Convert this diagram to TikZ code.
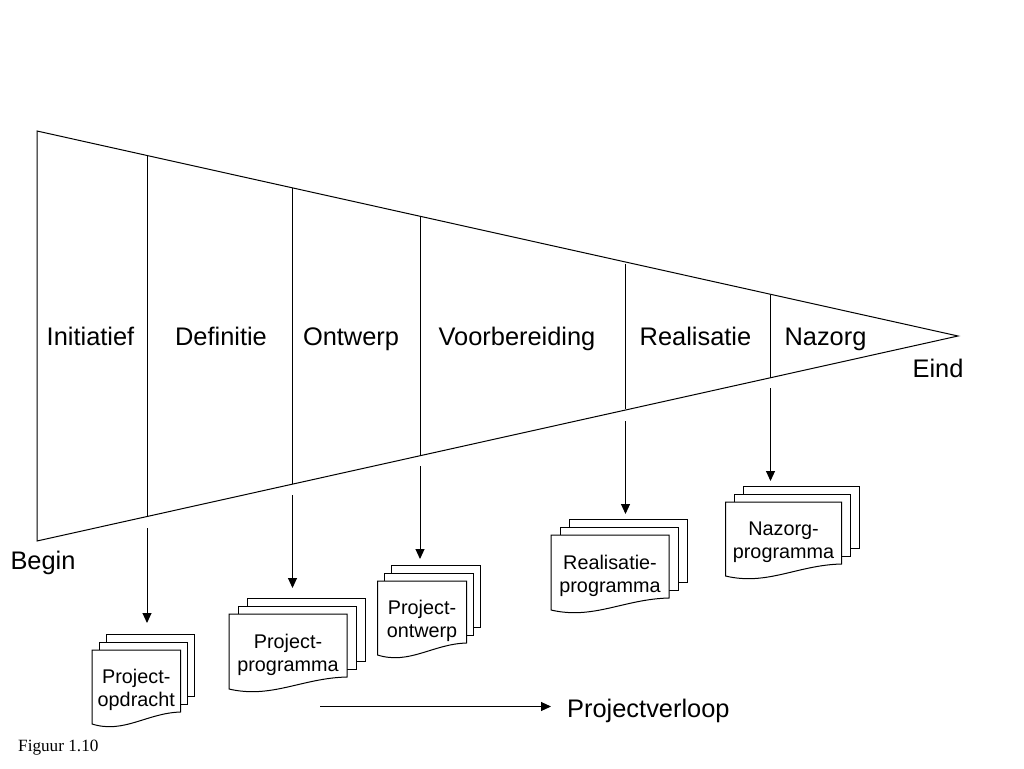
\documentclass[tikz,border=0pt]{standalone}
\usepackage{fontspec}
\setmainfont{Liberation Sans}
\newfontfamily\figfont{Liberation Serif}
\usetikzlibrary{arrows.meta}
\tikzset{
  line/.style={draw=black,line width=1pt},
  flow/.style={line,-{Triangle[length=10pt,width=9pt]}},
  sheet/.style={line,fill=white,line join=miter},
  phase/.style={font=\fontsize{25.4}{30}\selectfont,anchor=base,inner sep=0pt},
  doclabel/.style={font=\fontsize{19.8}{23}\selectfont,align=center,inner sep=0pt,anchor=center},
}
\newcommand{\docstack}[7]{% name, x, y, w, h, back offset, label
  \draw[sheet] ({#2+#6},{#3-16}) rectangle ({#2+#6+#4},{#3-16+#5});
  \draw[sheet] ({#2+#6/2},{#3-8}) rectangle ({#2+#6/2+#4},{#3-8+#5});
  \draw[sheet] (#2,#3) -- ({#2+#4},#3) -- ({#2+#4},{#3+#5})
     .. controls ({#2+0.62*#4},{#3+#5+1}) and ({#2+0.36*#4},{#3+#5+22}) .. (#2,{#3+#5+12}) -- cycle;
  \node[doclabel] (#1) at ({#2+#4/2},{#3+#5/2+9}) {#7};
}
\begin{document}
\begin{tikzpicture}[x=1pt,y=-1pt]
\useasboundingbox (0,0) rectangle (1024,768);
% funnel
\coordinate (tl) at (37,131);
\coordinate (tip) at (958,336);
\coordinate (bl) at (37,541);
\draw[line,line join=miter] (tl) -- (tip) -- (bl) -- cycle;
% dividers
\coordinate (d1t) at (147,156); \coordinate (d1b) at (147,517);
\coordinate (d2t) at (292,188); \coordinate (d2b) at (292,484);
\coordinate (d3t) at (420,216); \coordinate (d3b) at (420,456);
\coordinate (d4t) at (625,264); \coordinate (d4b) at (625,409);
\coordinate (d5t) at (770,295); \coordinate (d5b) at (770,378);
\foreach \i in {1,...,5} \draw[line] (d\i t) -- (d\i b);
% phases
\node[phase] (initiatief) at (90.5,345) {Initiatief};
\node[phase] (definitie) at (221,345) {Definitie};
\node[phase] (ontwerp) at (351,345) {Ontwerp};
\node[phase] (voorbereiding) at (517,345) {Voorbereiding};
\node[phase] (realisatie) at (695.5,345) {Realisatie};
\node[phase] (nazorg) at (825.5,345) {Nazorg};
\node[phase] (eind) at (938,377) {Eind};
\node[phase] (begin) at (43,569) {Begin};
% documents
\docstack{docA}{92}{650}{88.5}{62}{14}{Project-\\opdracht}
\docstack{docB}{229}{614}{118}{63}{18.5}{Project-\\programma}
\docstack{docC}{377.5}{581}{89}{62}{14}{Project-\\ontwerp}
\docstack{docD}{551}{535}{118}{63}{18.5}{Realisatie-\\programma}
\docstack{docE}{725.5}{502}{116}{62}{18}{Nazorg-\\programma}
% arrows
\coordinate (a1s) at (147,528); \coordinate (a1e) at (147,623);
\coordinate (a2s) at (292.5,495); \coordinate (a2e) at (292.5,588);
\coordinate (a3s) at (420,466); \coordinate (a3e) at (420,559);
\coordinate (a4s) at (625.5,421); \coordinate (a4e) at (625.5,514);
\coordinate (a5s) at (770.5,388); \coordinate (a5e) at (770.5,481);
\foreach \i in {1,...,5} \draw[flow] (a\i s) -- (a\i e);
% project course
\node[phase,anchor=base west] (verloop) at (567,717) {Projectverloop};
\coordinate (vs) at (320,706.5); \coordinate (ve) at (551,706.5);
\draw[flow] (vs) -- (ve);
\node[anchor=base west,inner sep=0pt,font=\figfont\fontsize{17.2}{20}\selectfont] (fig) at (18,751) {Figuur 1.10};
\end{tikzpicture}
\end{document}
